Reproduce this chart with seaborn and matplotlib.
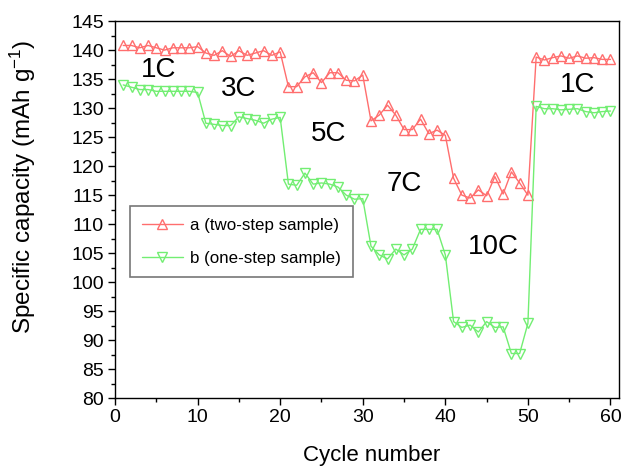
import numpy as np
import pandas as pd
import matplotlib
matplotlib.use("Agg")
import matplotlib.pyplot as plt
from matplotlib.ticker import MultipleLocator
import seaborn as sns

# capacity data (mAh/g), 10 cycles per rate
cycles = np.arange(1, 61)
cap_a = [140.8, 140.8, 140.4, 140.8, 140.4, 140.0, 140.4, 140.4, 140.4, 140.6,
         139.5, 139.1, 139.9, 138.9, 139.9, 139.1, 139.5, 139.9, 139.1, 139.7,
         133.7, 133.7, 135.4, 136.1, 134.4, 136.1, 136.1, 134.8, 134.7, 135.7,
         127.8, 128.8, 130.5, 128.8, 126.3, 126.3, 128.1, 125.6, 126.2, 125.3,
         117.9, 115.0, 114.5, 115.9, 114.9, 118.2, 115.2, 119.0, 117.1, 115.0,
         138.8, 138.3, 138.7, 139.0, 138.6, 139.0, 138.6, 138.7, 138.4, 138.4]
cap_b = [134.0, 133.6, 133.2, 133.2, 132.9, 132.9, 132.9, 132.9, 132.9, 132.7,
         127.4, 127.2, 127.0, 127.0, 128.5, 128.2, 127.9, 127.4, 128.1, 128.4,
         116.9, 116.7, 118.8, 116.9, 117.1, 116.9, 116.4, 115.0, 114.3, 114.4,
         106.2, 104.7, 104.0, 105.7, 104.7, 105.7, 109.1, 109.1, 109.1, 104.7,
         93.2, 92.2, 92.6, 91.4, 93.2, 92.2, 92.3, 87.7, 87.7, 92.9,
         130.3, 129.9, 129.9, 129.7, 129.8, 129.9, 129.4, 129.2, 129.4, 129.5]
rate_labels = ["1C", "3C", "5C", "7C", "10C", "1C"]
rate_x = [5.3, 15.0, 25.9, 35.0, 45.8, 56.0]
rate_y = [136.6, 133.3, 125.5, 116.9, 106.0, 134.0]

df = pd.DataFrame({"cycle": np.concatenate([cycles, cycles]),
                   "capacity": cap_a + cap_b,
                   "sample": ["a (two-step sample)"] * 60 + ["b (one-step sample)"] * 60})

sns.set_style("ticks")
plt.rcParams["font.family"] = ["Liberation Sans", "DejaVu Sans"]
plt.rcParams["mathtext.default"] = "regular"
plt.rcParams["text.color"] = "black"
plt.rcParams["axes.labelcolor"] = "black"
plt.rcParams["xtick.color"] = "black"
plt.rcParams["ytick.color"] = "black"

fig, ax = plt.subplots(figsize=(6.25, 4.69), dpi=100)
plt.subplots_adjust(left=0.184, right=0.990, bottom=0.151, top=0.955)

red = "#ff6e6e"
green = "#72ee72"
for name, col, mk in [("a (two-step sample)", red, "^"), ("b (one-step sample)", green, "v")]:
    sns.lineplot(ax=ax, data=df[df["sample"] == name], x="cycle", y="capacity",
                 color=col, marker=mk, markersize=7.5, markerfacecolor="none",
                 markeredgecolor=col, markeredgewidth=1.0, linewidth=1.0, label=name)

for lab, x, y in zip(rate_labels, rate_x, rate_y):
    ax.text(x, y, lab, fontsize=20, ha="center", va="center", color="black")

ax.set_xlim(0, 61)
ax.set_ylim(80, 145)
ax.xaxis.set_major_locator(MultipleLocator(10))
ax.xaxis.set_minor_locator(MultipleLocator(5))
ax.yaxis.set_major_locator(MultipleLocator(5))
ax.yaxis.set_minor_locator(MultipleLocator(2.5))
ax.tick_params(which="major", direction="out", length=5, width=1, labelsize=14,
               top=False, right=False, pad=3, colors="black")
ax.tick_params(which="minor", direction="out", length=3, width=1, top=False, right=False,
               colors="black")
for sp in ax.spines.values():
    sp.set_visible(True)
    sp.set_linewidth(1.0)
    sp.set_color("black")

ax.set_xlabel("Cycle number", fontsize=16)
ax.xaxis.set_label_coords(0.51, -0.125)
ax.set_ylabel("Specific capacity (mAh g$^{-1}$)", fontsize=17.5)
ax.yaxis.set_label_coords(-0.152, 0.56)

leg = ax.legend(loc="upper left", bbox_to_anchor=(0.03, 0.51), borderaxespad=0,
                fontsize=12.2, frameon=True, fancybox=False, edgecolor="#555555",
                handlelength=2.4, handletextpad=0.45, borderpad=0.7, labelspacing=1.05)
leg.get_frame().set_linewidth(1.2)

plt.savefig("out.png", dpi=100)
